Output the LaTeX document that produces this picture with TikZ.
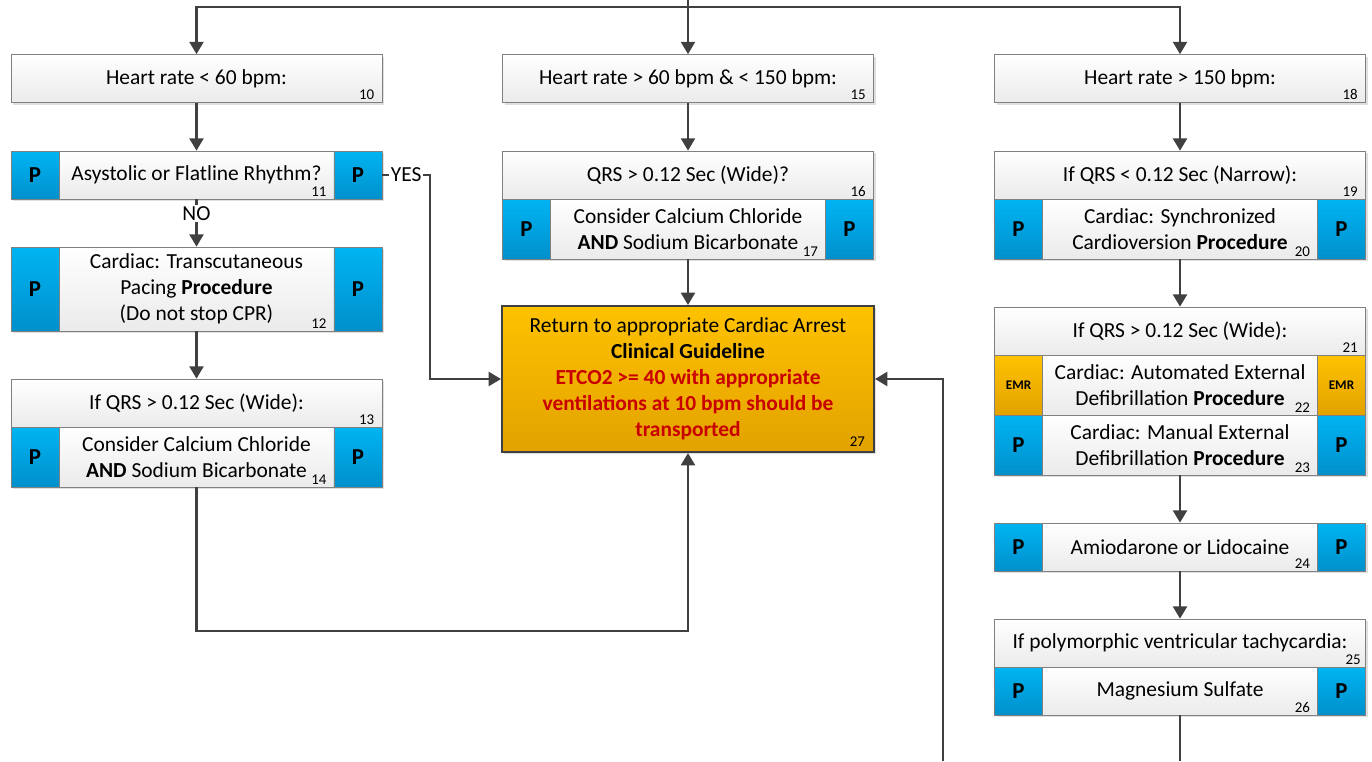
\documentclass[tikz,border=0pt]{standalone}
\usepackage{fontspec}
\setmainfont{Carlito}
\usetikzlibrary{arrows.meta,positioning,shadows,calc}
\definecolor{pblueTop}{RGB}{0,180,242}
\definecolor{pblueBot}{RGB}{0,144,204}
\definecolor{goldTop}{RGB}{255,194,0}
\definecolor{goldBot}{RGB}{226,162,0}
\definecolor{linegray}{RGB}{64,64,64}
\definecolor{edgegray}{RGB}{128,128,128}
\definecolor{etcored}{RGB}{200,0,0}
\newcommand{\etco}[1]{\textcolor{etcored}{\textbf{#1}}}

\begin{document}
\begin{tikzpicture}[
  x=0.02cm, y=-0.02cm,
  box/.style={rectangle, draw=edgegray, top color=white, bottom color=gray!16,
    minimum width=7.42cm, minimum height=#1, align=center, inner sep=0pt,
    font=\fontsize{12.2}{14.8}\selectfont,
    drop shadow={shadow xshift=1.2pt, shadow yshift=-1.2pt, opacity=0.25}},
  box/.default=0.96cm,
  pbox/.style={rectangle, draw=edgegray, top color=pblueTop, bottom color=pblueBot,
    minimum width=0.96cm, minimum height=#1, inner sep=0pt,
    font=\fontsize{13}{14}\selectfont\bfseries},
  pbox/.default=0.96cm,
  emrbox/.style={pbox=#1, top color=goldTop, bottom color=goldBot,
    font=\fontsize{7.5}{8}\selectfont\bfseries},
  num/.style={anchor=south east, inner sep=1pt, font=\fontsize{8.5}{9}\selectfont},
  conn/.style={line width=1.2pt, linegray},
  arr/.style={conn, -{Triangle[width=8pt,length=7pt]}},
  lbl/.style={fill=white, text=black, inner sep=1pt, font=\fontsize{12.2}{13}\selectfont}
]
\useasboundingbox (0,0) rectangle (1372,761);

% Column 1 - Heart rate < 60
\node[box] (b10) at (196.5,78.5) {Heart rate < 60 bpm:};
\node[num] at ([shift={(-6,-1)}]b10.south east) {10};

\node[box] (b11) at (196.5,175) {Asystolic or Flatline Rhythm?};
\node[pbox, anchor=west] (p11l) at (b11.west) {P};
\node[pbox, anchor=east] (p11r) at (b11.east) {P};
\node[num] at ([shift={(-5,-1)}]p11r.south west) {11};

\node[box=1.68cm] (b12) at (196.5,289) {Cardiac: Transcutaneous\\ Pacing \textbf{Procedure}\\ (Do not stop CPR)};
\node[pbox=1.68cm, anchor=west] (p12l) at (b12.west) {P};
\node[pbox=1.68cm, anchor=east] (p12r) at (b12.east) {P};
\node[num] at ([shift={(-5,-1)}]p12r.south west) {12};

\node[box] (b13) at (196.5,403) {If QRS > 0.12 Sec (Wide):};
\node[num] at ([shift={(-6,-1)}]b13.south east) {13};
\node[box=1.2cm] (b14) at (196.5,457) {Consider Calcium Chloride\\ \textbf{AND} Sodium Bicarbonate};
\node[pbox=1.2cm, anchor=west] (p14l) at (b14.west) {P};
\node[pbox=1.2cm, anchor=east] (p14r) at (b14.east) {P};
\node[num] at ([shift={(-5,-1)}]p14r.south west) {14};

% Column 2 - Heart rate 60 to 150
\node[box] (b15) at (688,78.5) {Heart rate > 60 bpm \& < 150 bpm:};
\node[num] at ([shift={(-6,-1)}]b15.south east) {15};

\node[box] (b16) at (688,175) {QRS > 0.12 Sec (Wide)?};
\node[num] at ([shift={(-6,-1)}]b16.south east) {16};
\node[box=1.2cm] (b17) at (688,229) {Consider Calcium Chloride\\ \textbf{AND} Sodium Bicarbonate};
\node[pbox=1.2cm, anchor=west] (p17l) at (b17.west) {P};
\node[pbox=1.2cm, anchor=east] (p17r) at (b17.east) {P};
\node[num] at ([shift={(-5,-1)}]p17r.south west) {17};

\node[box=2.92cm, minimum width=7.44cm, top color=goldTop, bottom color=goldBot,
  draw=linegray, line width=1.2pt] (b27) at (688,379)
  {Return to appropriate Cardiac Arrest\\ \textbf{Clinical Guideline}\\
   \etco{ETCO2 >= 40 with appropriate}\\ \etco{ventilations at 10 bpm should be}\\ \etco{transported}};
\node[num] at ([shift={(-8,-4)}]b27.south east) {27};

% Column 3 - Heart rate > 150
\node[box] (b18) at (1180,78.5) {Heart rate > 150 bpm:};
\node[num] at ([shift={(-6,-1)}]b18.south east) {18};

\node[box] (b19) at (1180,175) {If QRS < 0.12 Sec (Narrow):};
\node[num] at ([shift={(-6,-1)}]b19.south east) {19};
\node[box=1.2cm] (b20) at (1180,229) {Cardiac: Synchronized\\ Cardioversion \textbf{Procedure}};
\node[pbox=1.2cm, anchor=west] (p20l) at (b20.west) {P};
\node[pbox=1.2cm, anchor=east] (p20r) at (b20.east) {P};
\node[num] at ([shift={(-5,-1)}]p20r.south west) {20};

\node[box] (b21) at (1180,331) {If QRS > 0.12 Sec (Wide):};
\node[num] at ([shift={(-6,-1)}]b21.south east) {21};
\node[box=1.2cm] (b22) at (1180,385) {Cardiac: Automated External\\ Defibrillation \textbf{Procedure}};
\node[emrbox=1.2cm, anchor=west] (e22l) at (b22.west) {EMR};
\node[emrbox=1.2cm, anchor=east] (e22r) at (b22.east) {EMR};
\node[num] at ([shift={(-5,-1)}]e22r.south west) {22};
\node[box=1.2cm] (b23) at (1180,445) {Cardiac: Manual External\\ Defibrillation \textbf{Procedure}};
\node[pbox=1.2cm, anchor=west] (p23l) at (b23.west) {P};
\node[pbox=1.2cm, anchor=east] (p23r) at (b23.east) {P};
\node[num] at ([shift={(-5,-1)}]p23r.south west) {23};

\node[box] (b24) at (1180,547) {Amiodarone or Lidocaine};
\node[pbox, anchor=west] (p24l) at (b24.west) {P};
\node[pbox, anchor=east] (p24r) at (b24.east) {P};
\node[num] at ([shift={(-5,-1)}]p24r.south west) {24};

\node[box] (b25) at (1180,643) {If polymorphic ventricular tachycardia:};
\node[num] at ([shift={(-3,-1)}]b25.south east) {25};
\node[box] (b26) at (1180,691) {Magnesium Sulfate};
\node[pbox, anchor=west] (p26l) at (b26.west) {P};
\node[pbox, anchor=east] (p26r) at (b26.east) {P};
\node[num] at ([shift={(-5,-1)}]p26r.south west) {26};

% Connectors
\coordinate (entry) at (688,0);
\coordinate (fork) at (688,7);
\coordinate (yesturn) at (430,175);
\coordinate (loopL) at (196.5,631);
\coordinate (rbot) at (1180,761);
\coordinate (ret) at (943,761);

\draw[conn] (entry) -- (fork);
\draw[arr] (fork) -| (b10);
\draw[arr] (fork) -- (b15);
\draw[arr] (fork) -| (b18);

\draw[arr] (b10) -- (b11);
\draw[arr] (b11) -- node[lbl, pos=0.3]{NO} (b12);
\draw[arr] (p11r) -- node[lbl]{YES} (yesturn) |- (b27);
\draw[arr] (b12) -- (b13);
\draw[arr] (b14) -- (loopL) -| (b27);

\draw[arr] (b15) -- (b16);
\draw[arr] (b17) -- (b27);

\draw[arr] (b18) -- (b19);
\draw[arr] (b20) -- (b21);
\draw[arr] (b23) -- (b24);
\draw[arr] (b24) -- (b25);
\draw[conn] (b26) -- (rbot);
\draw[arr] (ret) |- (b27);

\end{tikzpicture}
\end{document}
